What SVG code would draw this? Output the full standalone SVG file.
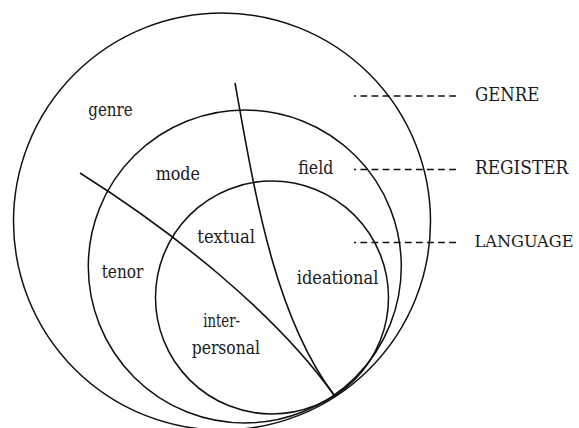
<svg xmlns="http://www.w3.org/2000/svg" width="579" height="428" viewBox="0 0 579 428">
<style>
.c{fill:none;stroke:#111;stroke-width:1.5}
.l{fill:none;stroke:#111;stroke-width:1.6}
.d{fill:none;stroke:#111;stroke-width:1.4;stroke-dasharray:6.8 4.3}
.t{font-family:'DejaVu Serif', 'Liberation Serif', serif;font-size:18px;fill:#1a1a1a}
</style>
<rect width="579" height="428" fill="#fff"/>
<g id="genre-circle"><circle class="c" cx="222" cy="221.5" r="208.5"/></g>
<g id="register-circle"><circle class="c" cx="244.8" cy="266.5" r="156.5"/></g>
<g id="language-circle"><circle class="c" cx="272" cy="297.5" r="116.5"/></g>
<g id="connectors">
<path class="l" d="M80,173 C170,229.7 274,311 334,395"/>
<path class="l" d="M235,83 C254.8,193 274,315 334,395"/>
<line class="d" x1="456" y1="96" x2="354" y2="96"/>
<line class="d" x1="456" y1="169.5" x2="354" y2="169.5"/>
<line class="d" x1="456" y1="242.5" x2="354" y2="242.5"/>
</g>
<g id="label-genre"><text class="t" x="88.3" y="116" textLength="44.4" lengthAdjust="spacingAndGlyphs">genre</text></g>
<g id="label-mode"><text class="t" x="155.7" y="180" textLength="44.3" lengthAdjust="spacingAndGlyphs">mode</text></g>
<g id="label-field"><text class="t" x="298.3" y="174" textLength="35" lengthAdjust="spacingAndGlyphs">field</text></g>
<g id="label-textual"><text class="t" x="197.3" y="243.3" textLength="57.7" lengthAdjust="spacingAndGlyphs">textual</text></g>
<g id="label-tenor"><text class="t" x="101.7" y="278.3" textLength="41.7" lengthAdjust="spacingAndGlyphs">tenor</text></g>
<g id="label-ideational"><text class="t" x="296.7" y="284" textLength="81.7" lengthAdjust="spacingAndGlyphs">ideational</text></g>
<g id="label-interpersonal"><text class="t" x="203.3" y="327.3" textLength="36.7" lengthAdjust="spacingAndGlyphs">inter-</text><text class="t" x="191.7" y="354" textLength="68.3" lengthAdjust="spacingAndGlyphs">personal</text></g>
<g id="GENRE"><text class="t" x="475" y="100.7" textLength="64.3" lengthAdjust="spacingAndGlyphs">GENRE</text></g>
<g id="REGISTER"><text class="t" x="475" y="174" textLength="93.3" lengthAdjust="spacingAndGlyphs">REGISTER</text></g>
<g id="LANGUAGE"><text class="t" x="474.5" y="246.7" style="font-size:17.2px" textLength="99" lengthAdjust="spacingAndGlyphs">LANGUAGE</text></g>
</svg>
